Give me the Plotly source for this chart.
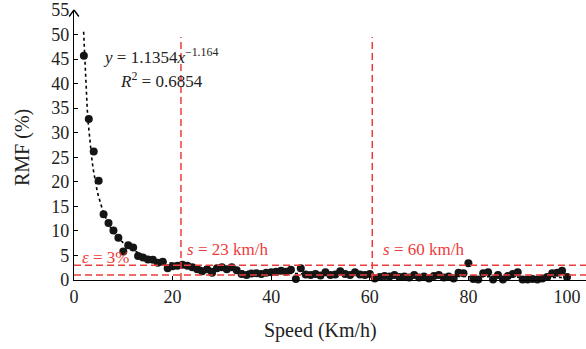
import plotly.graph_objects as go
import numpy as np

# ---- data ----
speed = list(range(2, 101))
rmf = [45.7, 32.8, 26.2, 20.2, 13.4, 11.6, 10.1, 8.6, 5.8, 7.1,
       6.6, 4.9, 4.6, 4.2, 4.1, 3.5, 3.7, 2.4, 2.8, 2.9,
       3.1, 2.9, 2.6, 2.2, 1.8, 2.2, 1.5, 2.4, 2.6, 2.2,
       2.6, 2.0, 1.2, 1.0, 1.3, 1.4, 1.2, 1.5, 1.6, 1.7,
       1.9, 1.7, 2.1, 0.2, 2.4, 1.1, 1.0, 1.2, 0.9, 1.6,
       1.0, 1.1, 1.8, 1.2, 1.0, 1.6, 1.1, 1.0, 1.2, 0.3,
       0.6, 0.8, 0.7, 1.0, 0.6, 0.7, 0.5, 1.0, 0.5, 0.7,
       0.3, 0.8, 1.0, 0.5, 0.7, 0.3, 1.5, 1.4, 3.4, 0.2,
       0.1, 1.4, 1.6, 0.1, 1.0, 0.1, 0.8, 1.2, 1.6, 0.1,
       0.1, 0.2, 0.1, 0.3, 0.6, 1.4, 1.5, 1.9, 0.6]

# trend line coefficients
trend_a = 110.0
trend_b = 1.164
trend_x_start = 1.95
trend_x_end = 100.0

speed_thresholds = [21.7, 60.5]
speed_threshold_labels = ["23", "60"]
eps_levels = [3, 1]
eps_labels = ["3%", "1%"]

x_ticks = [0, 20, 40, 60, 80, 100]
y_ticks = [0, 5, 10, 15, 20, 25, 30, 35, 40, 45, 50, 55]

RED = "#ee3b3b"
INK = "#222222"
SERIF = "Liberation Serif"

tx = np.linspace(trend_x_start, trend_x_end, 400)
ty = trend_a * tx ** (-trend_b)

fig = go.Figure()
fig.add_trace(go.Scatter(x=tx, y=ty, mode="lines",
                         line=dict(color="black", width=1.6, dash="dot"),
                         hoverinfo="skip", showlegend=False, cliponaxis=False))
fig.add_trace(go.Scatter(x=speed, y=rmf, mode="markers",
                         marker=dict(color="#151515", size=8),
                         showlegend=False, cliponaxis=False))

for sx in speed_thresholds:
    fig.add_shape(type="line", xref="x", yref="y", x0=sx, x1=sx, y0=0, y1=49.5,
                  line=dict(color=RED, width=1.5, dash="7px,4px"))
for ev in eps_levels:
    fig.add_shape(type="line", xref="paper", yref="y", x0=0, x1=1, y0=ev, y1=ev,
                  line=dict(color=RED, width=1.5, dash="7px,4px"))

def red_label(x, y, text):
    return dict(x=x, y=y, xref="x", yref="y", text=text,
                xanchor="left", yanchor="middle", showarrow=False,
                font=dict(family=SERIF, size=17, color=RED))

ann = [
    red_label(speed_thresholds[0] + 0.8, 6.2,
              "<i>s</i> = " + speed_threshold_labels[0] + " km/h"),
    red_label(speed_thresholds[1] + 1.8, 6.2,
              "<i>s</i> = " + speed_threshold_labels[1] + " km/h"),
    red_label(1.2, 4.6, "<i>ε</i> = " + eps_labels[0]),
    red_label(3.4, -1.9, "<i>ε</i> = " + eps_labels[1]),
    dict(x=5.4, y=45.6, xref="x", yref="y",
         text="<i>y</i> = 1.1354<i>x</i><sup>−1.164</sup>",
         xanchor="left", yanchor="middle", showarrow=False,
         font=dict(family=SERIF, size=17, color=INK)),
    dict(x=9.0, y=40.8, xref="x", yref="y",
         text="<i>R</i><sup>2</sup> = 0.6854",
         xanchor="left", yanchor="middle", showarrow=False,
         font=dict(family=SERIF, size=17, color=INK)),
    dict(x=(320 - 74) / 512, y=-50 / 270, xref="paper", yref="paper",
         text="Speed (Km/h)", showarrow=False, xanchor="center", yanchor="middle",
         font=dict(family=SERIF, size=20, color=INK)),
    dict(x=-52 / 512, y=(280 - 148) / 270, xref="paper", yref="paper",
         text="RMF (%)", showarrow=False, textangle=-90,
         xanchor="center", yanchor="middle",
         font=dict(family=SERIF, size=20, color=INK)),
]
# y-axis arrow head: two short strokes meeting at the top of the axis
for side in (-1, 1):
    ann.append(dict(x=0, y=1, xref="paper", yref="paper", text="",
                    showarrow=True, arrowhead=0, arrowwidth=1.4,
                    arrowcolor="black", ax=side * 6, ay=8, standoff=0,
                    startstandoff=0))

axis_common = dict(ticks="inside", ticklen=4, showline=True, linecolor="black",
                   linewidth=1.3, showgrid=False, zeroline=False, automargin=False,
                   tickfont=dict(family=SERIF, size=18, color=INK), tickcolor="black")

fig.update_layout(
    width=586, height=349,
    margin=dict(l=74, r=0, t=10, b=69),
    paper_bgcolor="white", plot_bgcolor="white",
    annotations=ann,
    xaxis=dict(range=[0, 512 / 4.93], tickvals=x_ticks, **axis_common),
    yaxis=dict(range=[0, 55], tickvals=y_ticks, **axis_common),
)

fig.write_html("out.html", config={"displayModeBar": False},
               post_script="document.body.style.margin='0';document.body.style.padding='0';")
